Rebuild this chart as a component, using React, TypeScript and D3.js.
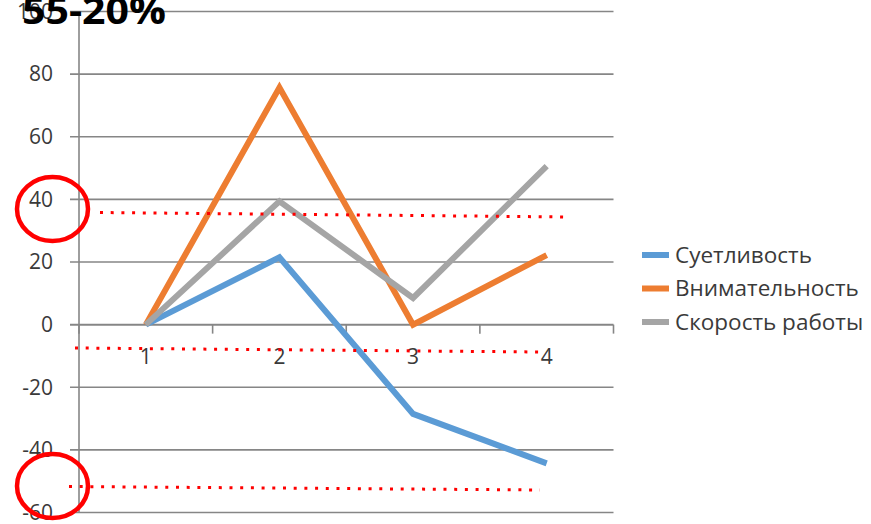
import React from "react";
import * as d3 from "d3";

const categories = ["1", "2", "3", "4"];
const seriesNames = ["Суетливость", "Внимательность", "Скорость работы"];
const suetlivost = [0, 21.5, -28.5, -44.3];
const vnimatelnost = [0, 75.7, 0, 22.2];
const skorost = [0, 39.4, 8.5, 50.6];
const yTicks = [-60, -40, -20, 0, 20, 40, 60, 80, 100];
const colors = ["#5B9BD5", "#ED7D31", "#A5A5A5"];
const titleText = "55-20%";

const W = 871;
const H = 524;
const FONT = "'Open Sans', 'Noto Sans', 'DejaVu Sans', sans-serif";

export default function App() {
  const left = 79;
  const right = 613.5;
  const x = d3.scalePoint<string>().domain(categories).range([left, right]).padding(0.5);
  const xBand = d3.scaleBand<string>().domain(categories).range([left, right]);
  const y = d3.scaleLinear().domain([-60, 100]).range([512.5, 11.5]);
  const series = [suetlivost, vnimatelnost, skorost];
  const line = d3
    .line<number>()
    .x((_, i) => x(categories[i]) as number)
    .y((d) => y(d));

  const gridColor = "#868686";
  const textColor = "#3a3a3a";

  return (
    <svg width={W} height={H} style={{ position: "absolute", left: 0, top: 0, background: "#fff" }}>
      {/* gridlines */}
      {yTicks.map((t) => (
        <line
          key={"g" + t}
          x1={70}
          x2={right}
          y1={y(t)}
          y2={y(t)}
          stroke={gridColor}
          strokeWidth={t === 0 ? 2 : 1.6}
        />
      ))}
      {/* y axis */}
      <line x1={left} x2={left} y1={y(100)} y2={y(-60)} stroke={gridColor} strokeWidth={1.6} />
      {/* category ticks */}
      {categories.map((c) => (
        <line
          key={"t" + c}
          x1={(xBand(c) as number) + xBand.bandwidth()}
          x2={(xBand(c) as number) + xBand.bandwidth()}
          y1={y(0)}
          y2={y(0) + 9}
          stroke={gridColor}
          strokeWidth={1.6}
        />
      ))}
      <line x1={left} x2={left} y1={y(0)} y2={y(0) + 9} stroke={gridColor} strokeWidth={1.6} />
      {/* y tick labels */}
      {yTicks.map((t) => (
        <text
          key={"l" + t}
          x={53}
          y={y(t)}
          dy="0.35em"
          textAnchor="end"
          fontFamily={FONT}
          fontSize={21}
          fill={textColor}
        >
          {t}
        </text>
      ))}
      {/* category labels */}
      {categories.map((c) => (
        <text
          key={"c" + c}
          x={x(c) as number}
          y={357}
          dy="0.35em"
          textAnchor="middle"
          fontFamily={FONT}
          fontSize={21}
          fill={textColor}
        >
          {c}
        </text>
      ))}
      {/* series lines */}
      {series.map((s, i) => (
        <path
          key={"s" + i}
          d={line(s) as string}
          fill="none"
          stroke={colors[i]}
          strokeWidth={6}
          strokeLinejoin="miter"
          strokeLinecap="butt"
        />
      ))}
      {/* legend */}
      {seriesNames.map((n, i) => (
        <g key={"lg" + i} transform={`translate(642, ${255 + i * 33.5})`}>
          <line x1={0} x2={27} y1={0} y2={0} stroke={colors[i]} strokeWidth={6} />
          <text x={33} y={0} dy="0.35em" fontFamily={FONT} fontSize={22.5} fill={textColor}>
            {n}
          </text>
        </g>
      ))}
      {/* red dotted annotation lines */}
      <line x1={100} y1={212.5} x2={570} y2={217} stroke="#ff0000" strokeWidth={3} strokeDasharray="3 7.7" />
      <line x1={75} y1={348} x2={540} y2={352} stroke="#ff0000" strokeWidth={3} strokeDasharray="3 7.7" />
      <line x1={69} y1={486.5} x2={540} y2={490} stroke="#ff0000" strokeWidth={3} strokeDasharray="3 7.7" />
      {/* red circles */}
      <ellipse cx={52.5} cy={209} rx={35.5} ry={32} fill="none" stroke="#ff0000" strokeWidth={4.5} />
      <ellipse cx={52.5} cy={486} rx={35.5} ry={32} fill="none" stroke="#ff0000" strokeWidth={4.5} />
      {/* title */}
      <text
        x={22}
        y={23.5}
        fontFamily={FONT}
        fontWeight="bold"
        fontSize={38}
        fill="#000"
        textLength={144}
        lengthAdjust="spacingAndGlyphs"
      >
        {titleText}
      </text>
    </svg>
  );
}
